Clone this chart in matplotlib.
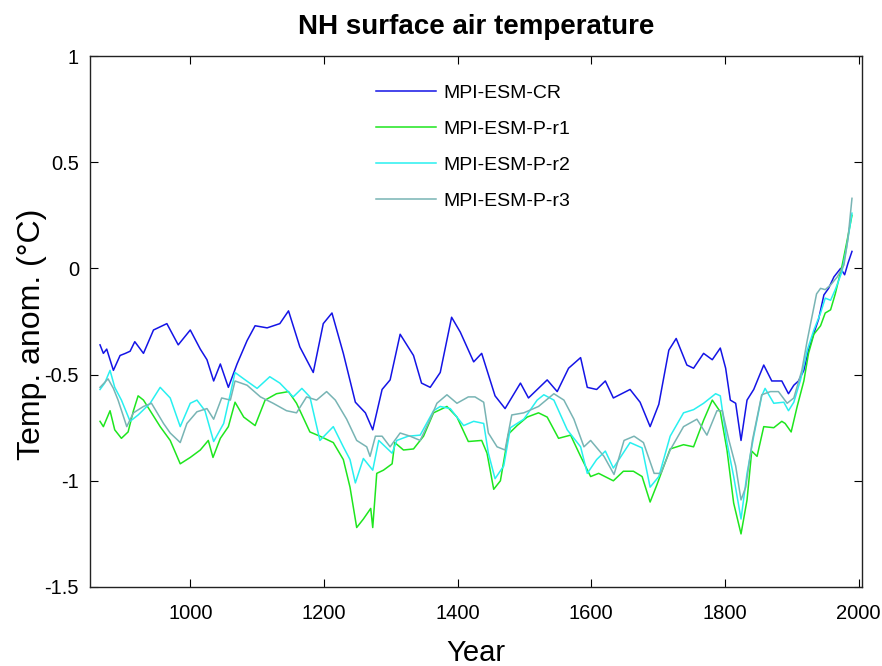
import matplotlib
matplotlib.use('Agg')
import matplotlib.pyplot as plt

plt.rcParams['font.family'] = ['Liberation Sans', 'DejaVu Sans']

# MPI-ESM-CR
cr_year = [865, 870, 875, 885, 895, 903, 910, 917, 930, 945, 965, 982, 1000, 1015, 1025, 1035,
           1045, 1057, 1070, 1085, 1097, 1115, 1134, 1147, 1164, 1184, 1199, 1212, 1229, 1247,
           1262, 1273, 1287, 1299, 1314, 1334, 1346, 1359, 1374, 1391, 1404, 1424, 1436, 1456,
           1471, 1494, 1506, 1534, 1549, 1566, 1584, 1594, 1608, 1621, 1633, 1658, 1673, 1688,
           1701, 1716, 1727, 1743, 1753, 1768, 1781, 1793, 1801, 1808, 1816, 1824, 1833, 1843,
           1858, 1870, 1885, 1895, 1903, 1910, 1918, 1925, 1933, 1940, 1948, 1955, 1963, 1973,
           1979, 1984, 1990]
cr_temp = [-0.36, -0.40, -0.38, -0.48, -0.41, -0.40, -0.39, -0.345, -0.40, -0.29, -0.26, -0.36,
           -0.29, -0.38, -0.43, -0.53, -0.45, -0.56, -0.45, -0.34, -0.27, -0.28, -0.26, -0.20,
           -0.37, -0.49, -0.26, -0.21, -0.40, -0.63, -0.68, -0.76, -0.57, -0.525, -0.31, -0.41,
           -0.54, -0.56, -0.49, -0.23, -0.30, -0.44, -0.40, -0.60, -0.66, -0.54, -0.61, -0.525,
           -0.58, -0.47, -0.42, -0.56, -0.57, -0.53, -0.61, -0.57, -0.63, -0.745, -0.64, -0.385,
           -0.33, -0.455, -0.47, -0.40, -0.43, -0.375, -0.47, -0.62, -0.635, -0.81, -0.62, -0.57,
           -0.455, -0.53, -0.53, -0.59, -0.55, -0.53, -0.48, -0.385, -0.305, -0.24, -0.125,
           -0.094, -0.04, 0.0, -0.03, 0.024, 0.08]

# MPI-ESM-P-r1
r1_year = [865, 870, 880, 887, 897, 907, 915, 922, 930, 940, 955, 970, 985, 1000, 1015, 1027,
           1034, 1045, 1057, 1067, 1080, 1097, 1112, 1129, 1147, 1159, 1179, 1194, 1214, 1229,
           1239, 1249, 1259, 1270, 1273, 1279, 1289, 1302, 1306, 1319, 1334, 1349, 1364, 1384,
           1399, 1416, 1436, 1444, 1454, 1464, 1476, 1489, 1504, 1521, 1534, 1551, 1569, 1584,
           1599, 1611, 1633, 1648, 1663, 1676, 1688, 1698, 1718, 1738, 1753, 1768, 1781, 1793,
           1803, 1813, 1824, 1833, 1840, 1848, 1858, 1873, 1885, 1890, 1899, 1908, 1918, 1925,
           1933, 1943, 1950, 1958, 1965, 1975, 1982, 1990]
r1_temp = [-0.72, -0.745, -0.67, -0.76, -0.80, -0.77, -0.67, -0.60, -0.62, -0.67, -0.745, -0.81,
           -0.92, -0.89, -0.855, -0.81, -0.89, -0.80, -0.745, -0.63, -0.70, -0.74, -0.62, -0.59,
           -0.58, -0.635, -0.77, -0.79, -0.82, -0.90, -1.03, -1.22, -1.18, -1.13, -1.22, -0.965,
           -0.95, -0.92, -0.82, -0.855, -0.85, -0.79, -0.68, -0.65, -0.70, -0.815, -0.81, -0.87,
           -1.04, -1.00, -0.78, -0.74, -0.70, -0.68, -0.70, -0.80, -0.785, -0.885, -0.98, -0.965,
           -1.00, -0.955, -0.955, -0.98, -1.10, -1.02, -0.85, -0.83, -0.84, -0.715, -0.62,
           -0.675, -0.855, -1.105, -1.25, -1.09, -0.86, -0.885, -0.745, -0.75, -0.72, -0.73,
           -0.77, -0.65, -0.53, -0.40, -0.31, -0.27, -0.21, -0.195, -0.12, 0.01, 0.12, 0.25]

# MPI-ESM-P-r2
r2_year = [865, 872, 880, 887, 897, 910, 922, 940, 955, 970, 985, 1000, 1010, 1022, 1035, 1050,
           1060, 1067, 1080, 1100, 1119, 1134, 1154, 1167, 1179, 1194, 1214, 1229, 1239, 1247,
           1259, 1273, 1282, 1302, 1309, 1326, 1344, 1364, 1374, 1389, 1409, 1424, 1439, 1446,
           1456, 1469, 1479, 1499, 1519, 1529, 1544, 1564, 1584, 1594, 1608, 1621, 1633, 1658,
           1676, 1688, 1701, 1718, 1738, 1753, 1768, 1786, 1793, 1803, 1813, 1824, 1833, 1843,
           1855, 1860, 1873, 1888, 1895, 1903, 1913, 1923, 1933, 1943, 1950, 1958, 1965, 1975,
           1982, 1990]
r2_temp = [-0.57, -0.54, -0.48, -0.56, -0.62, -0.72, -0.69, -0.635, -0.56, -0.61, -0.745,
           -0.635, -0.62, -0.67, -0.815, -0.73, -0.59, -0.49, -0.52, -0.565, -0.51, -0.54,
           -0.605, -0.565, -0.605, -0.81, -0.745, -0.84, -0.90, -1.01, -0.895, -0.95, -0.81,
           -0.87, -0.81, -0.79, -0.785, -0.67, -0.65, -0.66, -0.74, -0.72, -0.73, -0.87, -0.99,
           -0.93, -0.75, -0.71, -0.62, -0.595, -0.62, -0.76, -0.84, -0.965, -0.90, -0.86, -0.94,
           -0.82, -0.845, -1.03, -0.98, -0.79, -0.68, -0.665, -0.635, -0.59, -0.60, -0.82, -0.98,
           -1.18, -0.965, -0.79, -0.60, -0.565, -0.635, -0.63, -0.67, -0.63, -0.525, -0.385,
           -0.29, -0.21, -0.14, -0.15, -0.10, -0.016, 0.10, 0.26]

# MPI-ESM-P-r3
r3_year = [865, 877, 885, 892, 905, 915, 930, 942, 960, 970, 985, 995, 1010, 1025, 1035, 1047,
           1060, 1067, 1085, 1105, 1124, 1144, 1159, 1174, 1189, 1204, 1217, 1234, 1249, 1264,
           1269, 1277, 1287, 1299, 1314, 1329, 1344, 1359, 1369, 1384, 1399, 1416, 1426, 1439,
           1446, 1459, 1471, 1481, 1499, 1521, 1544, 1559, 1574, 1589, 1599, 1619, 1634, 1649,
           1664, 1678, 1694, 1704, 1718, 1738, 1758, 1773, 1788, 1796, 1806, 1816, 1824, 1831,
           1841, 1855, 1868, 1880, 1893, 1903, 1915, 1923, 1930, 1937, 1943, 1950, 1958, 1968,
           1978, 1984, 1990]
r3_temp = [-0.56, -0.52, -0.565, -0.62, -0.745, -0.68, -0.65, -0.635, -0.73, -0.775, -0.82,
           -0.73, -0.675, -0.66, -0.71, -0.61, -0.62, -0.53, -0.55, -0.605, -0.635, -0.67,
           -0.68, -0.605, -0.62, -0.58, -0.62, -0.71, -0.81, -0.84, -0.885, -0.79, -0.79,
           -0.84, -0.775, -0.79, -0.81, -0.71, -0.635, -0.595, -0.635, -0.605, -0.605, -0.63,
           -0.775, -0.84, -0.855, -0.69, -0.68, -0.65, -0.59, -0.62, -0.71, -0.84, -0.81,
           -0.885, -0.97, -0.81, -0.79, -0.82, -0.965, -0.965, -0.855, -0.745, -0.71, -0.785,
           -0.67, -0.67, -0.81, -0.93, -1.09, -1.03, -0.81, -0.595, -0.58, -0.58, -0.635, -0.61,
           -0.48, -0.34, -0.23, -0.12, -0.094, -0.10, -0.078, -0.04, 0.016, 0.14, 0.33]

x_ticks = [1000, 1200, 1400, 1600, 1800, 2000]
y_ticks = [-1.5, -1, -0.5, 0, 0.5, 1]
y_ticklabels = ['-1.5', '-1', '-0.5', '0', '0.5', '1']

fig = plt.figure(figsize=(8.82, 6.66), dpi=100)
ax = fig.add_axes([90/882, 79/666, 772/882, 531/666])

ax.plot(cr_year, cr_temp, color='#1414e6', lw=1.1, label='MPI-ESM-CR')
ax.plot(r1_year, r1_temp, color='#1ee61e', lw=1.1, label='MPI-ESM-P-r1')
ax.plot(r2_year, r2_temp, color='#28f0f0', lw=1.1, label='MPI-ESM-P-r2')
ax.plot(r3_year, r3_temp, color='#78b4b4', lw=1.1, label='MPI-ESM-P-r3')

ax.set_xlim(850, 2005)
ax.set_ylim(-1.5, 1)
ax.set_xticks(x_ticks)
ax.set_yticks(y_ticks)
ax.set_yticklabels(y_ticklabels)
ax.tick_params(direction='in', length=6, width=0.8, labelsize=14.5,
               top=True, right=True)
ax.tick_params(axis='x', pad=12)
ax.tick_params(axis='y', pad=8)
for s in ax.spines.values():
    s.set_linewidth(1.0)
    s.set_color('#222222')

ax.set_title('NH surface air temperature', fontsize=20, fontweight='bold', pad=16)
ax.set_xlabel('Year', fontsize=21, labelpad=12)
ax.set_ylabel('Temp. anom. (°C)', fontsize=23)
ax.yaxis.set_label_coords(-0.056, 0.475)

ax.legend(loc='upper left', bbox_to_anchor=(0.37, 0.947), frameon=False, fontsize=14,
          handlelength=3.1, handletextpad=0.4, labelspacing=0.95, borderpad=0, borderaxespad=0)

fig.savefig('out.png', dpi=100)
